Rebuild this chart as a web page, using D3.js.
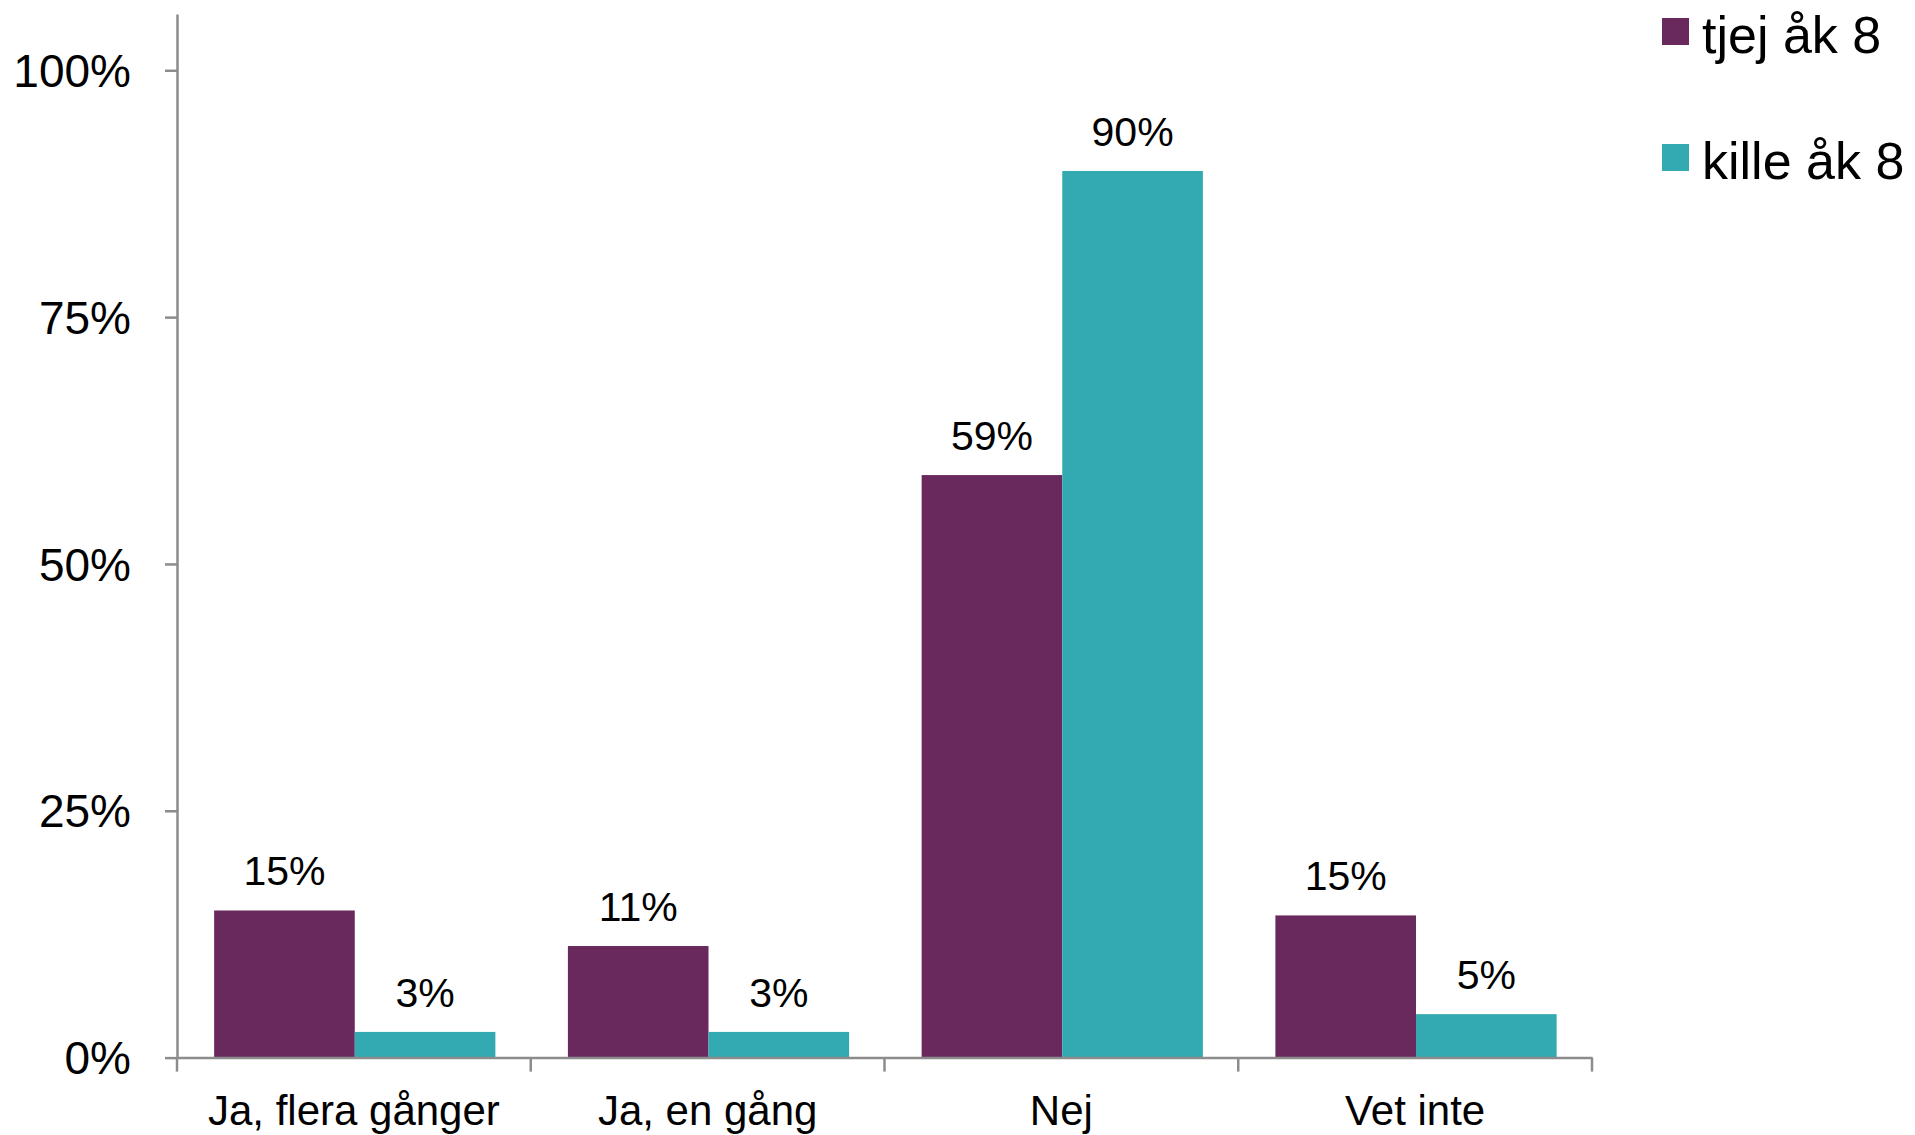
<!DOCTYPE html>
<meta charset="utf-8">
<script src="https://d3js.org/d3.v7.min.js"></script>
<style>
  body { margin: 0; background: #fff; }
  svg text { font-family: "Liberation Sans", Arial, sans-serif; fill: #000; }
</style>
<body>
<div id="chart"></div>
<script>
// data
var categories = ["Ja, flera gånger", "Ja, en gång", "Nej", "Vet inte"]
var seriesNames = ["tjej åk 8", "kille åk 8"]
var tjej = [0.149, 0.113, 0.590, 0.144]
var kille = [0.026, 0.026, 0.898, 0.044]
var labelsTjej = ["15%", "11%", "59%", "15%"]
var labelsKille = ["3%", "3%", "90%", "5%"]
var yTicks = [0, 0.25, 0.5, 0.75, 1]
var colors = ["#69295c", "#33a9b1"]

var W = 1915, H = 1135
var plotLeft = 177, plotRight = 1592, plotTop = 14, plotBottom = 1057.6

var svg = d3.select("#chart").append("svg")
  .attr("width", W).attr("height", H)

var x0 = d3.scaleBand().domain(categories).range([plotLeft, plotRight]).padding(0)
var bw = x0.bandwidth()
var x1 = d3.scaleBand().domain(seriesNames).range([bw * 0.105, bw * 0.9]).padding(0)
var y = d3.scaleLinear().domain([0, 1.057]).range([plotBottom, plotTop])

var rows = categories.map(function (c, i) {
  return {
    cat: c,
    vals: [
      { s: seriesNames[0], v: tjej[i], lab: labelsTjej[i], col: colors[0] },
      { s: seriesNames[1], v: kille[i], lab: labelsKille[i], col: colors[1] }
    ]
  }
})

// bars
var groups = svg.append("g").selectAll("g")
  .data(rows).enter().append("g")
  .attr("transform", function (d) { return "translate(" + x0(d.cat) + ",0)" })

groups.selectAll("rect")
  .data(function (d) { return d.vals }).enter().append("rect")
  .attr("x", function (d) { return x1(d.s) })
  .attr("width", x1.bandwidth())
  .attr("y", function (d) { return y(d.v) })
  .attr("height", function (d) { return y(0) - y(d.v) })
  .attr("fill", function (d) { return d.col })

groups.selectAll("text")
  .data(function (d) { return d.vals }).enter().append("text")
  .attr("x", function (d) { return x1(d.s) + x1.bandwidth() / 2 })
  .attr("y", function (d) { return y(d.v) - 25 })
  .attr("text-anchor", "middle")
  .attr("font-size", 41)
  .text(function (d) { return d.lab })

// y axis
var yAxis = svg.append("g")
  .attr("transform", "translate(" + plotLeft + ",0)")
  .call(d3.axisLeft(y).tickValues(yTicks).tickFormat(d3.format(".0%"))
    .tickSize(12).tickSizeOuter(0).tickPadding(34))
yAxis.select(".domain").attr("stroke", "#8c8c8c").attr("stroke-width", 2.5)
yAxis.selectAll(".tick line").attr("stroke", "#8c8c8c").attr("stroke-width", 2.5)
yAxis.selectAll(".tick text").attr("font-size", 46).attr("dy", "0.35em")

// x axis
var xAxis = svg.append("g")
  .attr("transform", "translate(0," + plotBottom + ")")
  .call(d3.axisBottom(x0).tickSize(0).tickPadding(38))
xAxis.select(".domain").attr("stroke", "#8c8c8c").attr("stroke-width", 2.5)
xAxis.selectAll(".tick text").attr("font-size", 42)

var bounds = categories.map(function (c) { return x0(c) }).concat([plotRight])
xAxis.selectAll(".bound").data(bounds).enter().append("line")
  .attr("class", "bound")
  .attr("x1", function (d) { return d }).attr("x2", function (d) { return d })
  .attr("y1", 0).attr("y2", 14)
  .attr("stroke", "#8c8c8c").attr("stroke-width", 2.5)

// legend
var legend = svg.append("g").selectAll("g")
  .data(seriesNames).enter().append("g")
  .attr("transform", function (d, i) { return "translate(1662," + (18 + i * 126) + ")" })
legend.append("rect")
  .attr("width", 27).attr("height", 27)
  .attr("fill", function (d, i) { return colors[i] })
legend.append("text")
  .attr("x", 40).attr("y", 35)
  .attr("font-size", 52)
  .text(function (d) { return d })
</script>
</body>
